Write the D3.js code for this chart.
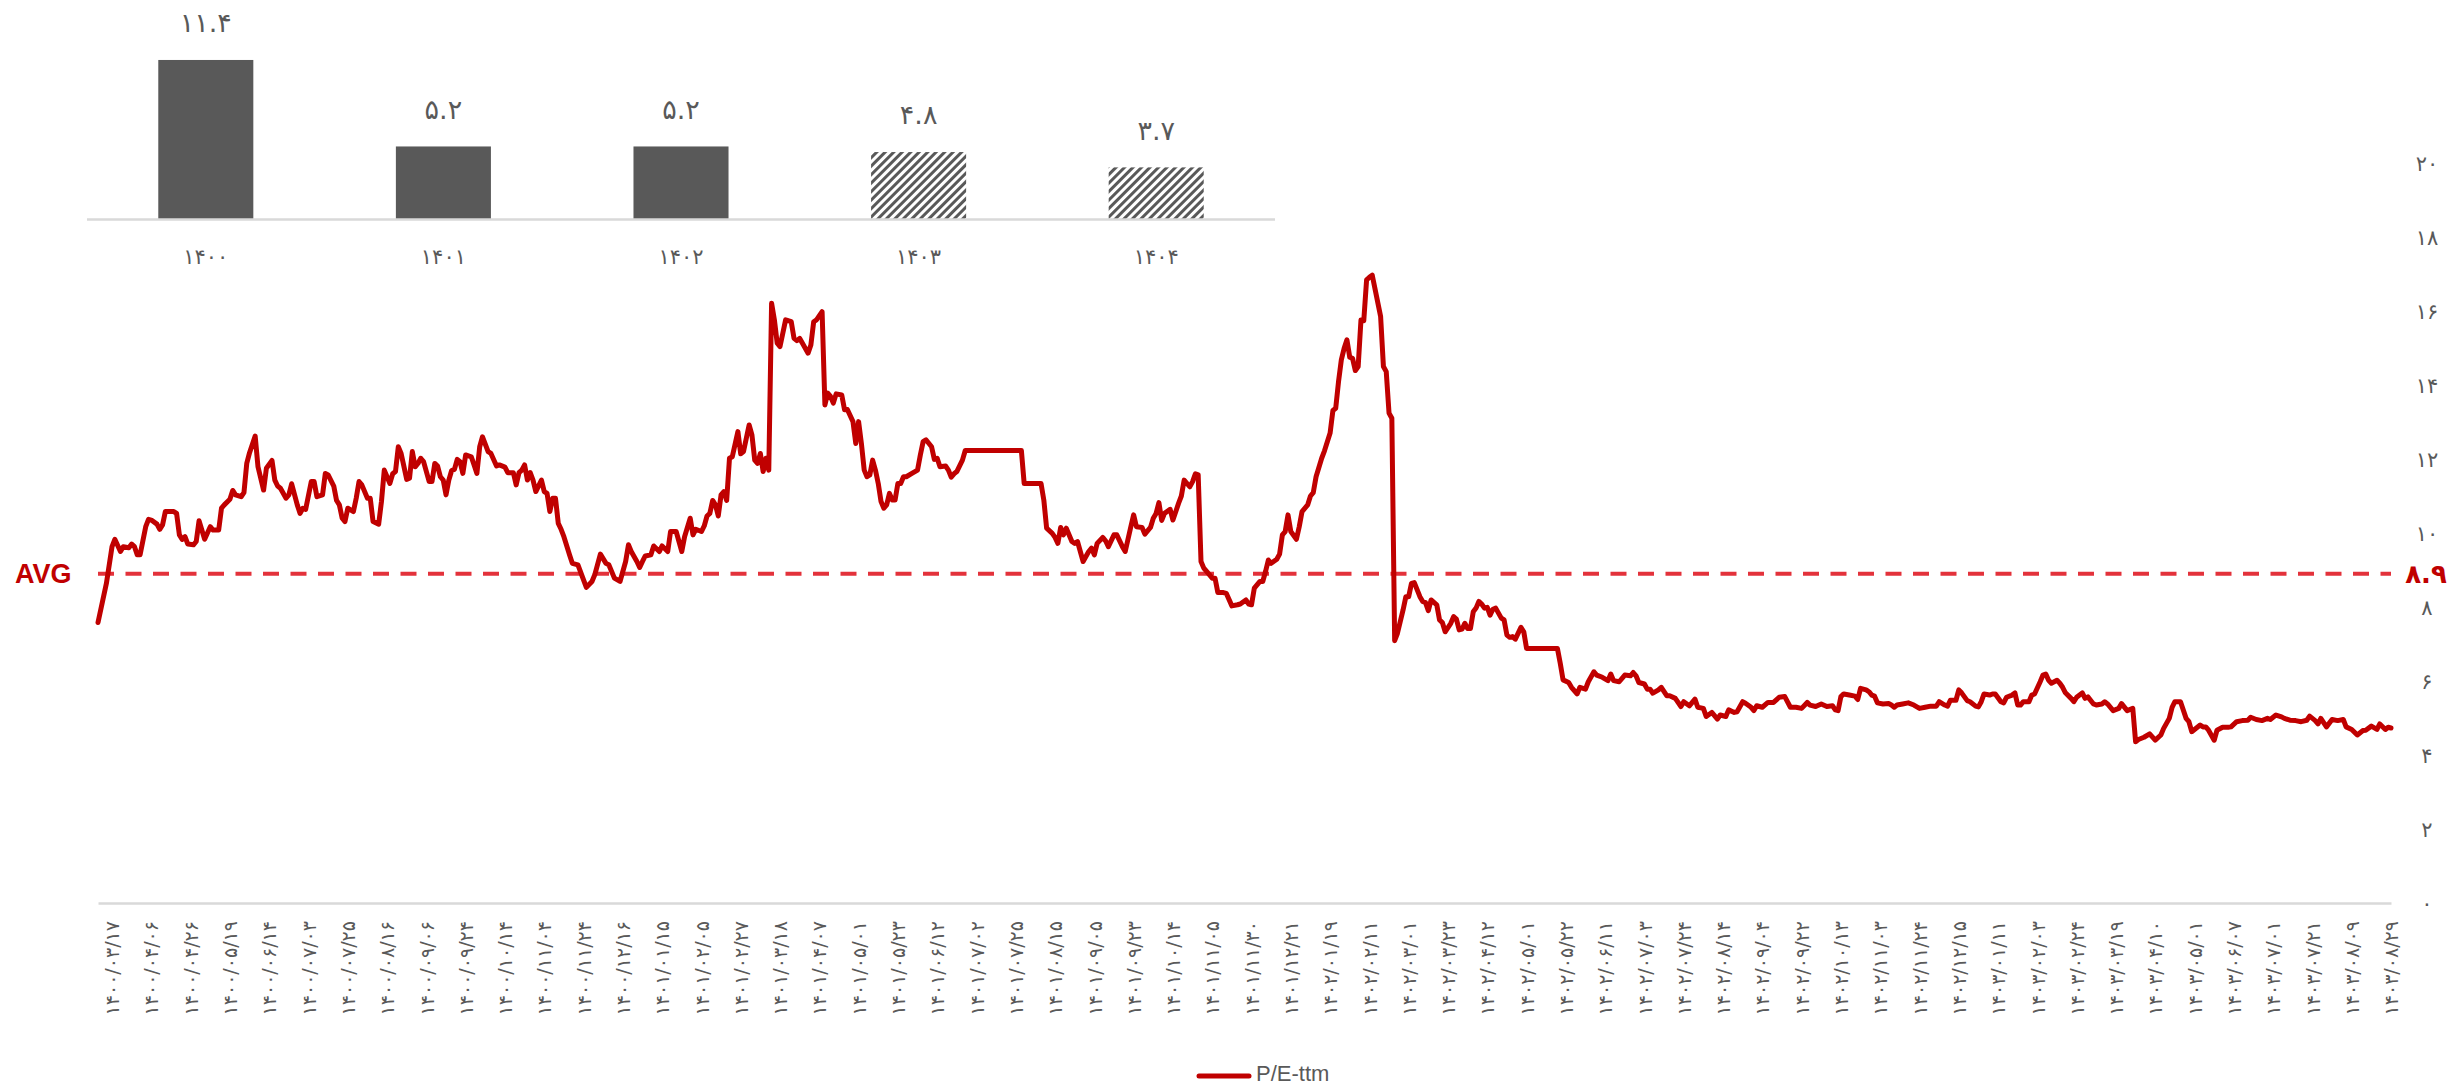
<!DOCTYPE html>
<html><head><meta charset="utf-8">
<script src="https://cdn.jsdelivr.net/npm/d3@7"></script>
<style>body{margin:0;background:#fff}svg{display:block}</style>
</head><body>
<svg id="c" width="2450" height="1086"></svg>
<script>
// ---------- DATA ----------
const years = ['۱۴۰۰','۱۴۰۱','۱۴۰۲','۱۴۰۳','۱۴۰۴'];
const yearPE = [11.4, 5.2, 5.2, 4.8, 3.7];
const yearForecast = [false, false, false, true, true];

const avgPE = 8.9;
const yTicks = [0,2,4,6,8,10,12,14,16,18,20];

const dateLabels = ['۱۴۰۰/۰۳/۱۷','۱۴۰۰/۰۴/۰۶','۱۴۰۰/۰۴/۲۶','۱۴۰۰/۰۵/۱۹','۱۴۰۰/۰۶/۱۴','۱۴۰۰/۰۷/۰۳','۱۴۰۰/۰۷/۲۵','۱۴۰۰/۰۸/۱۶','۱۴۰۰/۰۹/۰۶','۱۴۰۰/۰۹/۲۴',
'۱۴۰۰/۱۰/۱۴','۱۴۰۰/۱۱/۰۴','۱۴۰۰/۱۱/۲۴','۱۴۰۰/۱۲/۱۶','۱۴۰۱/۰۱/۱۵','۱۴۰۱/۰۲/۰۵','۱۴۰۱/۰۲/۲۷','۱۴۰۱/۰۳/۱۸','۱۴۰۱/۰۴/۰۷','۱۴۰۱/۰۵/۰۱',
'۱۴۰۱/۰۵/۲۳','۱۴۰۱/۰۶/۱۲','۱۴۰۱/۰۷/۰۲','۱۴۰۱/۰۷/۲۵','۱۴۰۱/۰۸/۱۵','۱۴۰۱/۰۹/۰۵','۱۴۰۱/۰۹/۲۳','۱۴۰۱/۱۰/۱۴','۱۴۰۱/۱۱/۰۵','۱۴۰۱/۱۱/۳۰',
'۱۴۰۱/۱۲/۲۱','۱۴۰۲/۰۱/۱۹','۱۴۰۲/۰۲/۱۱','۱۴۰۲/۰۳/۰۱','۱۴۰۲/۰۳/۲۳','۱۴۰۲/۰۴/۱۲','۱۴۰۲/۰۵/۰۱','۱۴۰۲/۰۵/۲۲','۱۴۰۲/۰۶/۱۱','۱۴۰۲/۰۷/۰۳',
'۱۴۰۲/۰۷/۲۴','۱۴۰۲/۰۸/۱۴','۱۴۰۲/۰۹/۰۴','۱۴۰۲/۰۹/۲۲','۱۴۰۲/۱۰/۱۳','۱۴۰۲/۱۱/۰۳','۱۴۰۲/۱۱/۲۴','۱۴۰۲/۱۲/۱۵','۱۴۰۳/۰۱/۱۱','۱۴۰۳/۰۲/۰۳',
'۱۴۰۳/۰۲/۲۴','۱۴۰۳/۰۳/۱۹','۱۴۰۳/۰۴/۱۰','۱۴۰۳/۰۵/۰۱','۱۴۰۳/۰۶/۰۷','۱۴۰۳/۰۷/۰۱','۱۴۰۳/۰۷/۲۱','۱۴۰۳/۰۸/۰۹','۱۴۰۳/۰۸/۲۹'];
const totalDays = 818;          // trading days on the category axis
const firstLabelDay = 5;        // day index of the first label
const labelEvery = 14;          // one label every N trading days

// trading-day index and P/E-ttm value
const peDay = [0,3,5,6,8,9,11,12,13,14,15,17,18,19,21,22,23,24,27,28,29,30,31,32,34,35,36,38,40,41,43,44,45,47,48,49,51,52,53,54,56,57,59,60,62,63,64,65,67,68,69,71,72,73,74,76,77,78,80,81,82,84,85,86,87,88,89,91,92,93,94,96,97,98,100,101,102,104,105,106,107,108,110,111,112,113,114,115,116,118,119,120,121,122,123,124,125,126,127,128,129,130,131,133,134,135,136,137,139,140,142,143,145,146,148,149,150,151,152,153,154,155,156,158,159,160,161,162,163,164,165,166,168,169,171,173,174,176,177,179,181,182,184,186,188,189,190,192,193,194,195,197,198,200,201,203,204,206,
208,209,211,212,213,215,216,217,218,219,220,221,222,223,224,225,226,228,229,230,232,233,234,235,236,237,238,239,240,241,242,243,244,245,247,248,249,250,251,253,254,255,256,258,259,260,261,262,263,265,266,267,269,270,271,272,273,274,275,276,277,278,279,280,281,282,283,284,285,286,287,288,290,292,293,294,295,297,298,299,300,302,303,304,305,306,308,309,329,330,332,336,337,338,340,341,342,343,344,345,347,348,349,351,353,354,355,356,358,359,360,362,363,365,366,368,369,370,372,373,375,376,377,378,379,380,382,383,385,386,387,389,390,391,392,393,394,395,397,398,399,401,402,404,406,407,409,410,411,412,414,
415,416,417,418,420,421,422,423,424,425,427,428,429,431,432,433,434,436,437,439,440,441,442,443,444,445,446,447,448,449,450,451,452,453,454,457,458,459,460,461,462,463,465,466,467,468,469,471,472,473,474,475,477,478,479,480,482,483,484,485,486,487,488,489,490,491,492,493,494,495,496,497,498,500,501,502,503,504,505,507,508,509,520,521,522,524,525,527,528,530,531,533,534,536,538,539,540,542,544,546,547,548,549,551,552,553,554,556,557,559,560,562,564,565,567,569,570,572,573,575,577,578,580,581,583,584,586,587,589,590,591,593,595,597,599,601,603,605,607,609,610,612,614,616,618,619,
620,621,622,624,626,627,628,630,631,632,633,634,636,638,639,640,641,643,645,647,649,651,653,655,656,658,659,660,662,663,664,666,667,669,670,671,672,674,675,676,678,679,680,682,683,684,685,686,688,689,690,692,693,694,695,696,698,699,700,701,703,704,705,707,708,709,711,712,714,715,716,718,720,721,723,725,726,727,729,731,733,735,736,738,739,740,742,744,745,746,747,749,750,751,752,754,755,757,759,760,762,764,766,767,769,771,773,774,776,778,779,781,783,785,787,788,790,791,792,794,796,798,800,801,803,805,807,808,810,812,813,815,816,817];

const peValue = [7.58,8.64,9.63,9.83,9.50,9.63,9.60,9.70,9.63,9.41,9.41,10.17,10.37,10.35,10.24,10.10,10.22,10.58,10.58,10.53,9.95,9.83,9.90,9.70,9.68,9.77,10.33,9.83,10.17,10.08,10.08,10.67,10.76,10.91,11.15,11.03,10.98,11.09,11.88,12.17,12.62,11.79,11.16,11.75,11.96,11.43,11.27,11.21,10.94,11.03,11.33,10.76,10.53,10.67,10.64,11.39,11.39,10.98,11.03,11.61,11.57,11.27,10.88,10.76,10.40,10.31,10.67,10.58,10.94,11.39,11.30,10.94,10.94,10.31,10.24,10.85,11.70,11.34,11.60,11.66,12.33,12.15,11.45,11.48,12.20,11.79,11.88,12.02,11.93,11.39,11.39,11.88,11.81,11.52,11.43,11.03,11.43,11.69,11.72,11.99,11.93,11.61,12.11,12.06,11.84,11.61,12.33,12.60,12.20,12.15,11.81,11.84,11.78,11.63,11.63,11.30,11.63,11.70,11.84,11.43,11.63,11.43,11.12,11.43,11.12,11.07,10.58,10.94,10.94,10.26,10.10,9.90,9.41,9.18,9.14,8.73,8.53,8.69,8.87,9.43,9.18,9.14,8.78,8.69,9.23,9.68,9.50,9.23,9.07,9.23,9.38,9.41,9.65,9.50,9.65,9.50,10.04,10.04,
9.50,9.90,10.40,9.95,10.10,10.04,10.19,10.46,10.53,10.88,10.76,10.46,11.03,11.12,10.88,12.02,12.06,12.74,12.14,12.20,12.92,12.65,11.97,11.88,12.15,11.66,12.02,11.70,16.21,15.76,15.13,15.04,15.40,15.76,15.71,15.26,15.20,15.26,15.13,14.86,15.08,15.71,15.76,15.98,13.46,13.78,13.69,13.51,13.76,13.73,13.33,13.34,13.01,12.42,13.01,12.42,11.70,11.52,11.57,11.97,11.70,11.34,10.85,10.67,10.76,11.07,10.89,10.89,11.34,11.34,11.52,11.52,11.61,11.70,12.11,12.47,12.52,12.33,11.99,12.02,11.79,11.81,11.70,11.51,11.60,11.66,11.97,12.23,12.23,11.34,11.34,11.34,10.89,10.13,9.99,9.88,9.72,10.15,9.95,10.13,9.77,9.72,9.77,9.23,9.50,9.59,9.41,9.72,9.88,9.79,9.63,9.95,9.95,9.63,9.50,10.17,10.49,10.17,10.15,9.97,10.15,10.40,10.53,10.82,10.34,10.53,10.64,10.35,10.80,11.00,11.43,11.25,11.39,11.60,11.57,9.23,9.05,8.96,8.78,8.78,8.39,8.39,8.37,8.03,8.06,8.08,8.19,8.08,8.06,8.51,8.69,
8.69,8.96,9.27,9.18,9.29,9.43,9.95,10.04,10.49,10.04,9.83,10.17,10.58,10.76,11.00,11.09,11.52,12.02,12.22,12.70,13.31,13.37,14.09,14.68,14.99,15.22,14.75,14.72,14.39,14.50,15.76,15.74,16.84,16.91,16.97,15.85,14.50,14.36,13.24,13.10,7.09,7.29,7.92,8.28,8.28,8.64,8.66,8.28,8.15,8.12,7.90,8.19,8.06,7.65,7.58,7.33,7.56,7.74,7.67,7.38,7.40,7.56,7.42,7.42,7.87,7.97,8.15,8.08,7.97,7.99,7.78,7.94,7.97,7.70,7.65,7.24,7.18,7.20,7.13,7.45,7.33,6.88,6.88,6.48,6.03,5.96,5.83,5.65,5.83,5.78,5.98,6.25,6.16,6.10,6.01,6.19,6.01,5.98,6.16,6.14,6.23,6.14,5.96,5.92,5.78,5.78,5.67,5.76,5.83,5.60,5.60,5.53,5.31,5.44,5.33,5.51,5.29,5.26,5.04,5.15,4.97,5.08,5.04,5.22,5.15,5.17,5.44,5.40,5.29,5.20,5.33,5.29,5.42,5.42,5.56,5.58,5.29,5.29,5.26,5.42,5.35,5.31,5.38,5.31,5.33,5.22,
5.20,5.58,5.65,5.62,5.59,5.50,5.80,5.76,5.71,5.62,5.59,5.41,5.38,5.39,5.35,5.29,5.35,5.38,5.41,5.35,5.26,5.29,5.32,5.32,5.44,5.35,5.32,5.48,5.48,5.76,5.68,5.47,5.44,5.32,5.30,5.44,5.65,5.62,5.65,5.65,5.44,5.41,5.56,5.62,5.68,5.35,5.35,5.44,5.44,5.62,5.65,5.98,6.16,6.19,6.02,5.94,6.02,5.94,5.83,5.68,5.53,5.44,5.56,5.68,5.53,5.57,5.38,5.35,5.38,5.44,5.38,5.20,5.26,5.39,5.20,5.26,4.36,4.42,4.48,4.57,4.40,4.54,4.72,4.99,5.29,5.44,5.44,4.99,4.90,4.63,4.69,4.81,4.76,4.76,4.67,4.40,4.67,4.75,4.75,4.76,4.90,4.93,4.94,5.02,4.96,4.93,4.99,4.96,5.08,5.03,4.99,4.94,4.93,4.90,4.94,5.05,4.93,4.84,4.99,4.76,4.96,4.93,4.96,4.76,4.69,4.54,4.66,4.67,4.78,4.69,4.84,4.69,4.75,4.73];

const seriesName = 'P/E-ttm';

// ---------- HELPERS ----------
const FA = '۰۱۲۳۴۵۶۷۸۹';
const toFa = s => String(s).replace(/[0-9]/g, d => FA[+d]);
const faFont = "'DejaVu Sans', sans-serif";
const latFont = "'Liberation Sans', Arial, sans-serif";
const GRAY = '#595959', RED = '#C00000', AVGRED = '#E3323B', AXIS = '#D9D9D9';

const svg = d3.select('#c');
svg.append('rect').attr('width', 2450).attr('height', 1086).attr('fill', '#fff');

const defs = svg.append('defs');
const pat = defs.append('pattern').attr('id', 'hatch').attr('patternUnits', 'userSpaceOnUse')
  .attr('width', 6).attr('height', 6).attr('patternTransform', 'rotate(45)');
pat.append('rect').attr('width', 6).attr('height', 6).attr('fill', '#fff');
pat.append('line').attr('x1', 1.5).attr('y1', 0).attr('x2', 1.5).attr('y2', 6)
  .attr('stroke', GRAY).attr('stroke-width', 3);

// ---------- MAIN LINE CHART ----------
const x = d3.scaleLinear().domain([0, totalDays - 1]).range([98, 2391]);
const y = d3.scaleLinear().domain([0, 20]).range([903, 163]);

// x axis with rotated date labels
const labelDays = dateLabels.map((d, i) => firstLabelDay + i * labelEvery);
const gx = svg.append('g').attr('transform', 'translate(0,903)')
  .call(d3.axisBottom(x).tickValues(labelDays).tickFormat((d, i) => dateLabels[i])
    .tickSize(0).tickSizeOuter(0));
gx.select('.domain').attr('stroke', AXIS).attr('stroke-width', 2.5);
gx.selectAll('text')
  .attr('font-family', faFont).attr('font-size', 19).attr('fill', GRAY)
  .attr('text-anchor', 'end').attr('x', -18).attr('y', 0).attr('dy', '0.35em')
  .attr('transform', 'rotate(-90)');

// y axis labels (right side)
const gy = svg.append('g').attr('transform', 'translate(2427,0)')
  .call(d3.axisRight(y).tickValues(yTicks).tickFormat(d => toFa(d)).tickSize(0).tickPadding(0));
gy.select('.domain').remove();
gy.selectAll('text').attr('font-family', faFont).attr('font-size', 21).attr('fill', GRAY)
  .attr('text-anchor', 'middle').attr('x', 0).attr('dy', '0.35em');

// average line
svg.append('line').attr('x1', x(0)).attr('x2', x(totalDays - 1))
  .attr('y1', y(avgPE)).attr('y2', y(avgPE))
  .attr('stroke', AVGRED).attr('stroke-width', 4).attr('stroke-dasharray', '16,11.5');

// P/E line
const pts = peDay.map((d, i) => ({d, v: peValue[i]}));
svg.append('path').datum(pts)
  .attr('d', d3.line().x(p => x(p.d)).y(p => y(p.v)))
  .attr('fill', 'none').attr('stroke', RED).attr('stroke-width', 5)
  .attr('stroke-linejoin', 'round').attr('stroke-linecap', 'round');

// AVG labels
svg.append('text').attr('x', 15).attr('y', y(avgPE)).attr('dy', '0.35em')
  .attr('font-family', latFont).attr('font-weight', 'bold').attr('font-size', 27)
  .attr('fill', RED).text('AVG');
svg.append('text').attr('x', 2426).attr('y', y(avgPE)).attr('dy', '0.35em')
  .attr('text-anchor', 'middle').attr('font-family', faFont).attr('font-weight', 'bold')
  .attr('font-size', 26).attr('fill', RED).text(toFa(avgPE.toFixed(1)));

// legend
svg.append('line').attr('x1', 1199).attr('x2', 1249).attr('y1', 1076).attr('y2', 1076)
  .attr('stroke', RED).attr('stroke-width', 5).attr('stroke-linecap', 'round');
svg.append('text').attr('x', 1256).attr('y', 1081)
  .attr('font-family', latFont).attr('font-size', 22).attr('fill', GRAY).text(seriesName);

// ---------- INSET BAR CHART ----------
const xb = d3.scaleBand().domain(years).range([87, 1275]).paddingInner(0.6).paddingOuter(0.3);
const yb = d3.scaleLinear().domain([0, 12]).range([219, 219 - 12 * 13.95]);
const bars = years.map((yr, i) => ({yr, v: yearPE[i], f: yearForecast[i]}));

svg.append('g').selectAll('rect').data(bars).join('rect')
  .attr('x', d => xb(d.yr)).attr('width', xb.bandwidth())
  .attr('y', d => yb(d.v)).attr('height', d => yb(0) - yb(d.v))
  .attr('fill', d => d.f ? 'url(#hatch)' : GRAY);

svg.append('line').attr('x1', 87).attr('x2', 1275).attr('y1', yb(0) + 0.5).attr('y2', yb(0) + 0.5)
  .attr('stroke', AXIS).attr('stroke-width', 2.5);

svg.append('g').selectAll('text').data(bars).join('text')
  .attr('x', d => xb(d.yr) + xb.bandwidth() / 2).attr('y', d => yb(d.v) - 37).attr('dy', '0.35em')
  .attr('text-anchor', 'middle').attr('font-family', faFont).attr('font-size', 27)
  .attr('fill', GRAY).text(d => toFa(d.v.toFixed(1)));

svg.append('g').selectAll('text').data(bars).join('text')
  .attr('x', d => xb(d.yr) + xb.bandwidth() / 2).attr('y', 257).attr('dy', '0.35em')
  .attr('text-anchor', 'middle').attr('font-family', faFont).attr('font-size', 21)
  .attr('fill', GRAY).text(d => d.yr);
</script>
</body></html>
